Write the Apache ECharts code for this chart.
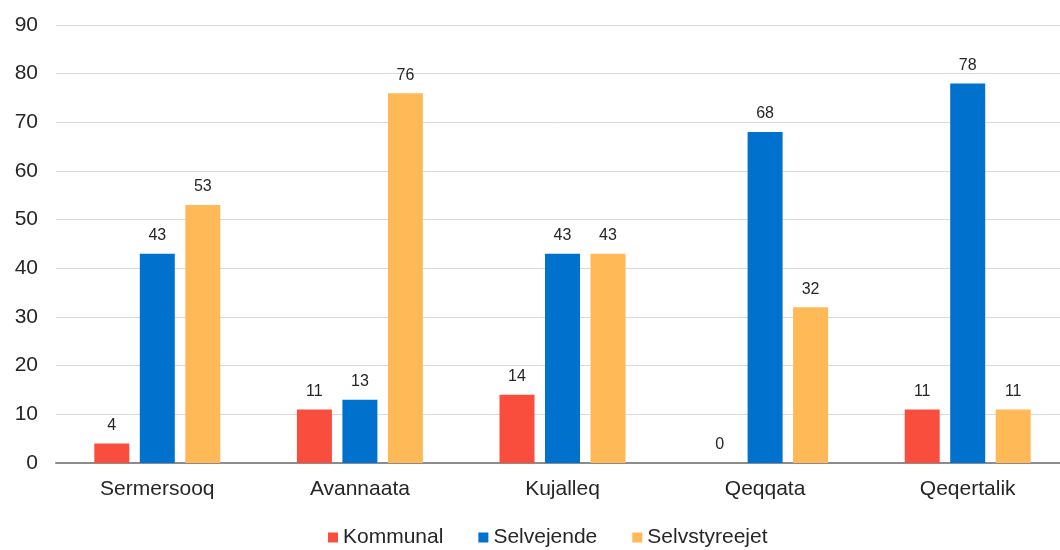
<!DOCTYPE html>
<html>
<head>
<meta charset="utf-8">
<script src="https://cdn.jsdelivr.net/npm/echarts@6/dist/echarts.min.js"></script>
<style>
  html, body { margin: 0; padding: 0; background: #fff; }
  #chart { width: 1060px; height: 550px; }
</style>
</head>
<body>
<div id="chart"></div>
<script>
// Regions and ownership shares
const regions = ['Sermersooq', 'Avannaata', 'Kujalleq', 'Qeqqata', 'Qeqertalik'];
const kommunal = [4, 11, 14, 0, 11];
const selvejende = [43, 13, 43, 68, 78];
const selvstyreejet = [53, 76, 43, 32, 11];
const yTicks = { min: 0, max: 90, interval: 10 };

const font = 'Liberation Sans, Arial, sans-serif';

function barSeries(name, data, color) {
  return {
    name: name,
    type: 'bar',
    data: data,
    barWidth: 35,
    barGap: '30%',
    itemStyle: { color: color },
    label: {
      show: true,
      position: 'top',
      distance: 10,
      color: '#262626',
      fontSize: 16,
      fontFamily: font
    }
  };
}

const chart = echarts.init(document.getElementById('chart'), null, { renderer: 'canvas' });
chart.setOption({
  animation: false,
  // plot runs a little past the right edge of the canvas
  grid: { left: 56, right: -9, top: 25, bottom: 87, containLabel: false, outerBoundsMode: 'none' },
  legend: {
    top: 527,
    left: 328,
    padding: 0,
    itemWidth: 10,
    itemHeight: 10,
    itemGap: 35,
    icon: 'rect',
    textStyle: { color: '#262626', fontSize: 21, fontFamily: font },
    data: ['Kommunal', 'Selvejende', 'Selvstyreejet']
  },
  xAxis: {
    type: 'category',
    data: regions,
    axisLine: { show: true, lineStyle: { color: '#8c8c8c', width: 2 } },
    axisTick: { show: false },
    axisLabel: { color: '#262626', fontSize: 21, fontFamily: font, margin: 16 }
  },
  yAxis: {
    type: 'value',
    min: yTicks.min,
    max: yTicks.max,
    interval: yTicks.interval,
    axisLine: { show: false },
    axisTick: { show: false },
    axisLabel: { color: '#262626', fontSize: 21, fontFamily: font, margin: 18 },
    splitLine: { lineStyle: { color: '#d9d9d9', width: 1 } }
  },
  series: [
    barSeries('Kommunal', kommunal, '#F94D3D'),
    barSeries('Selvejende', selvejende, '#0072CE'),
    barSeries('Selvstyreejet', selvstyreejet, '#FFB957')
  ]
});
</script>
</body>
</html>
